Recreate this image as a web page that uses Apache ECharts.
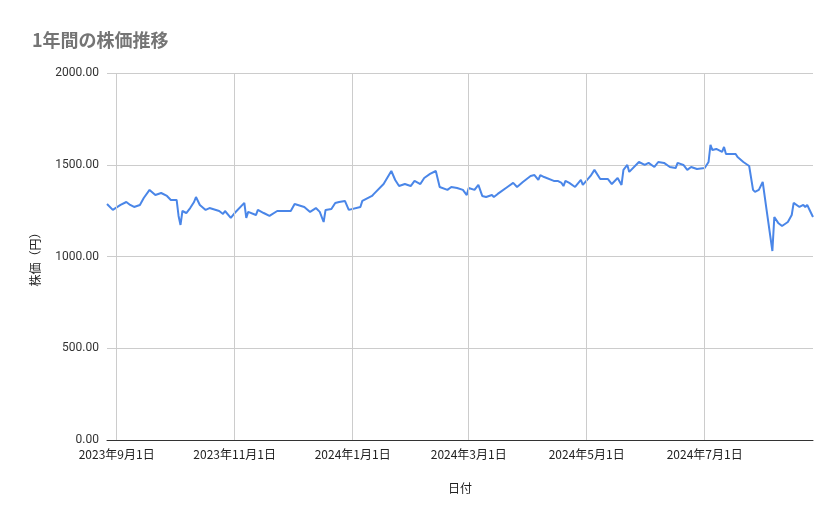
<!doctype html>
<html>
<head>
<meta charset="utf-8">
<title>1年間の株価推移</title>
<script src="https://cdn.jsdelivr.net/npm/echarts@6/dist/echarts.min.js"></script>
<style>
    html,body{margin:0;width:100%;height:100%;background:#fff;}
    #chart{width:839px;height:519px;}
</style>
</head>
<body>
<div id="chart"></div>
<script>
    // 読み取った日付と終値
    var dates = [
        '2023-08-27','2023-08-30','2023-09-03','2023-09-06','2023-09-08','2023-09-10','2023-09-13','2023-09-15',
        '2023-09-18','2023-09-19','2023-09-21','2023-09-24','2023-09-27','2023-09-29','2023-10-02','2023-10-03',
        '2023-10-04','2023-10-05','2023-10-07','2023-10-09','2023-10-11','2023-10-12','2023-10-14','2023-10-17',
        '2023-10-19','2023-10-20','2023-10-24','2023-10-26','2023-10-27','2023-10-30','2023-11-01','2023-11-06',
        '2023-11-07','2023-11-08','2023-11-12','2023-11-13','2023-11-16','2023-11-19','2023-11-23','2023-11-30',
        '2023-12-02','2023-12-07','2023-12-10','2023-12-13','2023-12-15','2023-12-17','2023-12-18','2023-12-21',
        '2023-12-23','2023-12-25','2023-12-28','2023-12-30','2024-01-05','2024-01-06','2024-01-11','2024-01-12',
        '2024-01-17','2024-01-21','2024-01-23','2024-01-25','2024-01-28','2024-01-31','2024-02-02','2024-02-05',
        '2024-02-07','2024-02-10','2024-02-13','2024-02-15','2024-02-19','2024-02-21','2024-02-24','2024-02-27',
        '2024-02-29','2024-03-01','2024-03-04','2024-03-06','2024-03-08','2024-03-10','2024-03-13','2024-03-14',
        '2024-03-16','2024-03-21','2024-03-24','2024-03-26','2024-03-29','2024-04-02','2024-04-04','2024-04-06',
        '2024-04-07','2024-04-09','2024-04-14','2024-04-16','2024-04-18','2024-04-19','2024-04-20','2024-04-22',
        '2024-04-25','2024-04-28','2024-04-29','2024-05-03','2024-05-05','2024-05-08','2024-05-12','2024-05-14',
        '2024-05-17','2024-05-19','2024-05-20','2024-05-22','2024-05-23','2024-05-28','2024-05-31','2024-06-02',
        '2024-06-05','2024-06-07','2024-06-10','2024-06-13','2024-06-16','2024-06-17','2024-06-20','2024-06-22',
        '2024-06-24','2024-06-27','2024-07-01','2024-07-03','2024-07-04','2024-07-05','2024-07-07','2024-07-10',
        '2024-07-11','2024-07-12','2024-07-17','2024-07-18','2024-07-21','2024-07-24','2024-07-26','2024-07-27',
        '2024-07-29','2024-07-31','2024-08-01','2024-08-02','2024-08-05','2024-08-06','2024-08-08','2024-08-10',
        '2024-08-13','2024-08-15','2024-08-16','2024-08-19','2024-08-21','2024-08-22','2024-08-23','2024-08-24',
        '2024-08-26'
    ];
    var prices = [
        1286,1254,1281,1297,1281,1270,1281,1319,
        1363,1373,1335,1346,1330,1308,1308,1221,
        1172,1248,1237,1264,1297,1324,1281,1254,
        1264,1254,1248,1232,1248,1210,1237,1292,
        1210,1243,1226,1254,1237,1221,1248,1248,
        1286,1270,1243,1264,1243,1188,1254,1259,
        1292,1297,1303,1254,1270,1303,1330,1341,
        1395,1466,1417,1384,1395,1384,1412,1395,
        1428,1450,1466,1379,1363,1379,1373,1363,
        1335,1373,1363,1390,1330,1324,1335,1324,
        1341,1379,1401,1379,1406,1439,1444,1417,
        1444,1433,1412,1412,1401,1384,1412,1401,
        1379,1417,1390,1439,1472,1422,1422,1395,
        1428,1390,1472,1499,1461,1515,1499,1510,
        1488,1515,1510,1488,1482,1510,1499,1472,
        1488,1477,1482,1515,1608,1580,1586,1570,
        1597,1559,1559,1542,1515,1493,1363,1352,
        1363,1406,1412,1254,1030,1215,1183,1166,
        1188,1226,1292,1270,1281,1270,1281,1259,
        1215
    ];
    var gridDates = ['2023-09-01','2023-11-01','2024-01-01','2024-03-01','2024-05-01','2024-07-01'];

    var seriesData = dates.map(function(d, i){ return [d, prices[i]]; });

    var chart = echarts.init(document.getElementById('chart'));
    chart.setOption({
        animation: false,
        title: {
            text: '1年間の株価推移',
            left: 27, top: 26,
            textStyle: {color: '#757575', fontSize: 18, fontWeight: 'bold', fontFamily: 'Noto Sans CJK JP'}
        },
        grid: {left: 107, right: 26, top: 73, bottom: 79},
        xAxis: {
            type: 'time',
            min: '2023-08-27',
            max: '2024-08-26',
            name: '日付',
            nameLocation: 'middle',
            nameGap: 42,
            nameTextStyle: {color: '#222', fontSize: 12, fontFamily: 'Noto Sans CJK JP'},
            axisLine: {lineStyle: {color: '#333'}},
            axisTick: {show: false},
            splitLine: {show: false},
            axisLabel: {
                color: '#222', fontSize: 12, fontFamily: 'Noto Sans CJK JP',
                hideOverlap: false,
                formatter: function(v){
                    var d = new Date(v);
                    if (d.getDate() !== 1 || d.getMonth() % 2 !== 0) return '';
                    return d.getFullYear() + '年' + (d.getMonth() + 1) + '月1日';
                }
            }
        },
        yAxis: {
            type: 'value',
            min: 0, max: 2000, interval: 500,
            name: '株価（円）',
            nameLocation: 'middle',
            nameGap: 66,
            nameTextStyle: {color: '#222', fontSize: 12, fontFamily: 'Noto Sans CJK JP'},
            axisLine: {show: false},
            axisTick: {show: false},
            splitLine: {lineStyle: {color: '#cccccc'}},
            axisLabel: {
                color: '#333', fontSize: 12, fontFamily: 'Roboto',
                formatter: function(v){ return v.toFixed(2); }
            }
        },
        series: [{
            type: 'line',
            data: seriesData,
            showSymbol: false,
            lineStyle: {color: '#4a86e8', width: 2},
            itemStyle: {color: '#4a86e8'},
            markLine: {
                silent: true,
                symbol: 'none',
                label: {show: false},
                lineStyle: {color: '#cccccc', type: 'solid', width: 1},
                data: gridDates.map(function(d){ return {xAxis: d}; })
            }
        }]
    });
</script>
</body>
</html>
